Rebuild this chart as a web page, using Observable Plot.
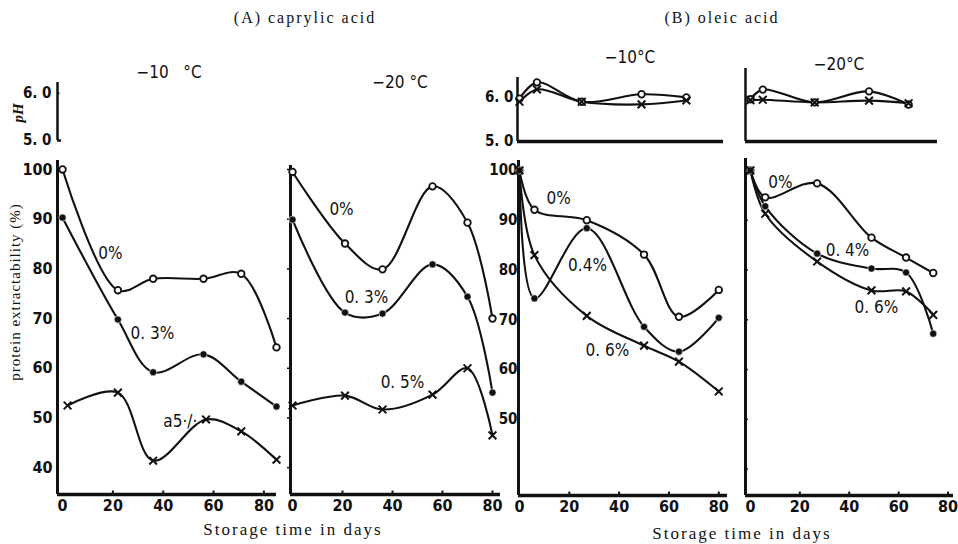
<!DOCTYPE html>
<html><head><meta charset="utf-8">
<script src="https://cdn.jsdelivr.net/npm/d3@7"></script>
<script src="https://cdn.jsdelivr.net/npm/@observablehq/plot@0.6"></script>
<style>
html,body{margin:0;padding:0;background:#fff;}
#wrap{position:relative;width:958px;height:544px;overflow:hidden;background:#fff;}
#wrap svg{position:absolute;left:0;top:0;}
.t{position:absolute;white-space:pre;color:#111;transform:translate(-50%,-50%);line-height:1;}
.serif{font-family:"Liberation Serif","DejaVu Serif",serif;}
.cond{font-family:"Liberation Sans Narrow","DejaVu Sans Condensed",sans-serif;}
</style></head><body><div id="wrap"></div>
<script>
// ---------- data ----------
const tickDays = [0, 20, 40, 60, 80];
const yTicksA10 = [40, 50, 60, 70, 80, 90, 100];
const yTicksB10 = [50, 60, 70, 80, 90, 100];
const yNubs = [40, 50, 60, 70, 80, 90, 100];
const pHTicks = [5.0, 6.0];

// (A) caprylic acid, -10 C
const a10Days = [0, 22, 36, 56, 71, 85];
const a10Days05 = [2, 22, 36, 57, 71, 85];
const a10_0 = [100, 75.7, 78, 78, 79, 64.2];
const a10_03 = [90.3, 69.8, 59.2, 62.8, 57.3, 52.3];
const a10_05 = [52.5, 55.1, 41.4, 49.7, 47.3, 41.6];
// (A) caprylic acid, -20 C
const a20Days = [0, 21, 36, 56, 70, 80];
const a20_0 = [99.5, 85.1, 79.9, 96.6, 89.3, 70.0];
const a20_03 = [89.9, 71.2, 71.0, 80.9, 74.4, 55.1];
const a20_05 = [52.5, 54.5, 51.7, 54.7, 60.0, 46.5];
// (B) oleic acid, -10 C
const b10Days = [0, 6, 27, 50, 64, 80];
const b10_0 = [100, 92.1, 90, 83.1, 70.6, 76];
const b10_04 = [100, 74.3, 88.4, 68.6, 63.6, 70.4];
const b10_06 = [100, 83, 70.8, 64.8, 61.6, 55.6];
// (B) oleic acid, -20 C
const b20Days = [0, 6, 27, 49, 63, 74];
const b20_0 = [100, 94.6, 97.4, 86.5, 82.5, 79.4];
const b20_04 = [100, 92.8, 83.3, 80.3, 79.5, 67.2];
const b20_06 = [100, 91.3, 81.7, 75.9, 75.7, 71.0];
// pH (B)
const phB10Days = [0, 7, 25, 49, 67];
const phB10_0 = [5.97, 6.34, 5.9, 6.07, 6.0];
const phB10_x = [5.9, 6.18, 5.9, 5.84, 5.93];
const phB20Days = [0, 5, 26, 48, 64];
const phB20_0 = [5.96, 6.18, 5.89, 6.14, 5.84];
const phB20_x = [5.94, 5.95, 5.89, 5.93, 5.87];

// text
const titleA = "(A) caprylic acid";
const titleB = "(B) oleic acid";
const tempA10 = "−10   °C", tempA20 = "−20 °C", tempB10 = "−10°C", tempB20 = "−20°C";
const xTitle = "Storage time in days";
const yTitle = "protein extractability (%)";
const pHTitle = "pH";
const labA10 = ["0%", "0. 3%", "a5·/·"];
const labA20 = ["0%", "0. 3%", "0. 5%"];
const labB10 = ["0%", "0.4%", "0. 6%"];
const labB20 = ["0%", "0. 4%", "0. 6%"];

// ---------- drawing ----------
const W = 958, H = 544;
const FONT = "'Liberation Sans Narrow','DejaVu Sans Condensed',sans-serif";
const INK = "#111";
const wrap = document.getElementById("wrap");
const rows = (days, vals, kind) => days.map((d, i) => ({day: d, v: vals[i], kind}));
const fmtPH = d => d3.format(".1f")(d).replace(".", ". ");

function seriesMarks(list) {
  const all = list.flat();
  return [
    Plot.line(all, {x: "day", y: "v", z: "kind", curve: "catmull-rom", stroke: INK, strokeWidth: 2.1}),
    Plot.dot(all.filter(d => d.kind === "o"), {x: "day", y: "v", r: 3.3, stroke: INK, strokeWidth: 1.8, fill: "#fff"}),
    Plot.dot(all.filter(d => d.kind === "f"), {x: "day", y: "v", r: 3.6, fill: INK, stroke: "#fff", strokeWidth: 0.6}),
    Plot.dot(all.filter(d => d.kind === "x"), {x: "day", y: "v", r: 3.6, symbol: "times", stroke: INK, strokeWidth: 2})
  ];
}

function panel(c) {
  const [x0, x1] = c.xDom, [y0, y1] = c.yDom;
  const marks = [];
  marks.push(Plot.ruleX([x0], {y1: y0, y2: y1, stroke: INK, strokeWidth: c.ySW || 3}));
  if (c.xLine) marks.push(Plot.ruleY([y0], {x1: x0, x2: x1, stroke: INK, strokeWidth: 3.5}));
  if (c.xTicks) {
    marks.push(Plot.ruleX(c.xTicks.filter(d => d > 0), {y1: y0, y2: y0 + c.nub, stroke: INK, strokeWidth: 2}));
    marks.push(Plot.text(c.xTicks, {x: d => d, y: y0, text: d => String(d), dy: 11, fontSize: 16, fontWeight: "bold", fill: INK, fontFamily: FONT}));
  }
  if (c.yNubs) marks.push(Plot.ruleY(c.yNubs, {x1: x0, x2: x0 + c.yNubLen, stroke: INK, strokeWidth: 1.5}));
  if (c.yLabels) marks.push(Plot.text(c.yLabels, {x: x0, y: d => d, text: c.yFmt || (d => String(d)), textAnchor: "end", dx: -c.yPad, fontSize: c.yFont || 16, fontWeight: "bold", fill: INK, fontFamily: FONT}));
  if (c.series) marks.push(...seriesMarks(c.series));
  if (c.labels) marks.push(Plot.text(c.labels, {x: "d", y: "v", text: "t", fontSize: 17, fill: INK, fontFamily: FONT, fontStyle: d => d.it ? "italic" : "normal"}));
  if (c.extra) marks.push(...c.extra);
  const svg = Plot.plot({
    width: W, height: H,
    marginLeft: c.left, marginRight: W - c.right, marginTop: c.top, marginBottom: H - c.bottom,
    x: {domain: c.xDom, axis: null}, y: {domain: c.yDom, axis: null},
    style: {background: "transparent", overflow: "visible", fontFamily: FONT},
    marks
  });
  wrap.appendChild(svg);
}

// A -10
panel({left: 57, right: 276, top: 160, bottom: 494, xDom: [-2, 85], yDom: [34.6, 101.8],
  xLine: true, xTicks: tickDays, nub: 0.7, yLabels: yTicksA10, yPad: 5,
  series: [rows(a10Days, a10_0, "o"), rows(a10Days, a10_03, "f"), rows(a10Days05, a10_05, "x")],
  labels: [{t: labA10[0], d: 19, v: 83.1}, {t: labA10[1], d: 35.7, v: 67}, {t: labA10[2], d: 46.8, v: 49.3, it: true}]});
// A -20
panel({left: 290, right: 500, top: 165, bottom: 494, xDom: [-0.8, 83.2], yDom: [34.6, 100.8],
  xLine: true, xTicks: tickDays, nub: 0.7, yNubs: yNubs, yNubLen: -1.2,
  series: [rows(a20Days, a20_0, "o"), rows(a20Days, a20_03, "f"), rows(a20Days, a20_05, "x")],
  labels: [{t: labA20[0], d: 19.6, v: 92}, {t: labA20[1], d: 29.6, v: 74.2}, {t: labA20[2], d: 44, v: 57.1}]});
// B -10
panel({left: 518, right: 727, top: 160, bottom: 495, xDom: [-0.4, 83.5], yDom: [34.7, 102],
  xLine: true, xTicks: tickDays, nub: 0.7, yLabels: yTicksB10, yPad: 1, yFont: 15,
  series: [rows(b10Days, b10_0, "o"), rows(b10Days, b10_04, "f"), rows(b10Days, b10_06, "x")],
  labels: [{t: labB10[0], d: 15.7, v: 94.4}, {t: labB10[1], d: 27.3, v: 80.9}, {t: labB10[2], d: 35.3, v: 63.9}]});
// B -20
panel({left: 745, right: 953, top: 158, bottom: 495, xDom: [-2, 82.2], yDom: [34.7, 102.4],
  xLine: true, xTicks: tickDays, nub: 0.7, yNubs: yNubs, yNubLen: 1.2,
  series: [rows(b20Days, b20_0, "o"), rows(b20Days, b20_04, "f"), rows(b20Days, b20_06, "x")],
  labels: [{t: labB20[0], d: 12.1, v: 97.6}, {t: labB20[1], d: 39.3, v: 83.9}, {t: labB20[2], d: 51, v: 72.5}]});

// pH A (axis only)
panel({left: 57, right: 62, top: 82, bottom: 140, xDom: [0, 1], yDom: [5, 6.23], ySW: 2.5,
  yLabels: pHTicks, yPad: 6, yFmt: fmtPH, yFont: 15,
  extra: [Plot.ruleY([5], {x1: 0, x2: 0.8, stroke: INK, strokeWidth: 2.5}),
          Plot.ruleY([6], {x1: 0, x2: 0.5, stroke: INK, strokeWidth: 1.5})]});
// pH B -10
panel({left: 517, right: 723, top: 77, bottom: 141, xDom: [-0.8, 81.9], yDom: [5, 6.45], ySW: 2.5,
  xLine: true, yLabels: pHTicks, yPad: 4, yFmt: fmtPH, yFont: 15,
  series: [rows(phB10Days, phB10_0, "o"), rows(phB10Days, phB10_x, "x")]});
// pH B -20
panel({left: 745, right: 937, top: 68, bottom: 141, xDom: [-2, 75.7], yDom: [5, 6.66], ySW: 2.5,
  xLine: true,
  series: [rows(phB20Days, phB20_0, "o"), rows(phB20Days, phB20_x, "x")]});

// ---------- html text ----------
function label(text, x, y, cls, css) {
  const d = document.createElement("div");
  d.className = "t " + cls;
  d.textContent = text;
  d.style.left = x + "px"; d.style.top = y + "px";
  Object.assign(d.style, css || {});
  wrap.appendChild(d);
  return d;
}
label(titleA, 305, 18, "serif", {fontSize: "16px", letterSpacing: "2px"});
label(titleB, 722, 18, "serif", {fontSize: "16px", letterSpacing: "2px"});
label(tempA10, 169, 72, "cond", {fontSize: "17px"});
label(tempA20, 400, 82, "cond", {fontSize: "17px"});
label(tempB10, 630, 57, "cond", {fontSize: "17px"});
label(tempB20, 839, 64, "cond", {fontSize: "17px"});
label(xTitle, 293, 529, "serif", {fontSize: "17px", letterSpacing: "2px"});
label(xTitle, 742, 533, "serif", {fontSize: "17px", letterSpacing: "2px"});
label(yTitle, 15, 292, "serif", {fontSize: "15px", letterSpacing: "1px", transform: "translate(-50%,-50%) rotate(-90deg)"});
label(pHTitle, 18, 113, "serif", {fontSize: "15px", fontStyle: "italic", fontWeight: "bold", transform: "translate(-50%,-50%) rotate(-90deg)"});
</script></body></html>
